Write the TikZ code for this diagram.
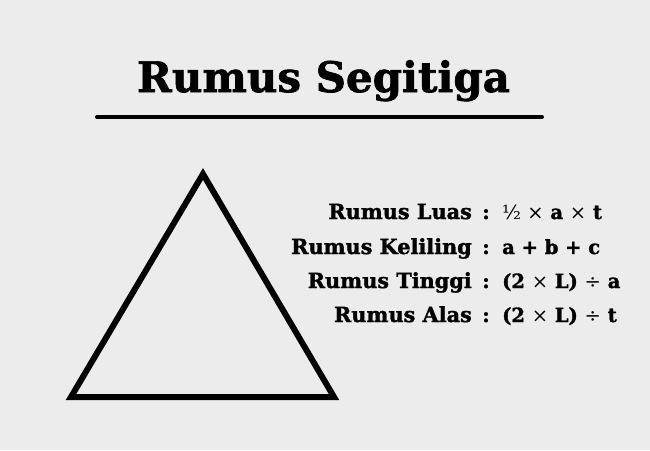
\documentclass[tikz,border=0pt]{standalone}
\usepackage{fontspec}
\setmainfont{DejaVu Serif}
\newfontfamily\tebal{DejaVu Serif Bold}[FakeBold=1.6]
\usepackage{tikz}
\usetikzlibrary{positioning}
\definecolor{bggrey}{RGB}{236,236,236}

\begin{document}
\begin{tikzpicture}[
  x=1pt, y=-1pt,
  judul/.style={anchor=base, inner sep=0pt, font=\fontsize{42}{42}\tebal},
  nama/.style={anchor=base east, inner sep=0pt, font=\fontsize{20.8}{21}\tebal},
  titik/.style={anchor=base, inner sep=0pt, font=\fontsize{20}{20}\tebal},
  rumus/.style={anchor=base west, inner sep=0pt, font=\fontsize{19.5}{20}\tebal},
]
% Latar
\fill[bggrey] (0,0) rectangle (650,450);
\useasboundingbox (0,0) rectangle (650,450);

% Judul
\node[judul] (title) at (323.5,92) {Rumus Segitiga};
\coordinate (garisA) at (97,117);
\coordinate (garisB) at (542,117);
\draw[line width=4pt, line cap=round] (garisA) -- (garisB);

% Segitiga
\coordinate (puncak) at (203,174);
\coordinate (kiri)   at (71,397);
\coordinate (kanan)  at (334,397);
\draw[line width=6pt, miter limit=10] (kiri) -- (puncak) -- (kanan) -- cycle;

% Daftar rumus
\node[nama]  (luas)     at (472,219) {Rumus Luas};
\node[titik] (c1)       at (486,219) {:};
\node[rumus] (fluas)    at (502,219) {{\rmfamily ½ ×} a {\rmfamily ×} t};

\node[nama]  (keliling) at (472,254) {Rumus Keliling};
\node[titik] (c2)       at (486,254) {:};
\node[rumus] (fkel)     at (502,254) {a + b + c};

\node[nama]  (tinggi)   at (472,288) {Rumus Tinggi};
\node[titik] (c3)       at (486,288) {:};
\node[rumus] (ftinggi)  at (502,288) {(2 {\rmfamily ×} L) {\rmfamily ÷} a};

\node[nama]  (alas)     at (472,322) {Rumus Alas};
\node[titik] (c4)       at (486,322) {:};
\node[rumus] (falas)    at (502,322) {(2 {\rmfamily ×} L) {\rmfamily ÷} t};
\end{tikzpicture}
\end{document}
